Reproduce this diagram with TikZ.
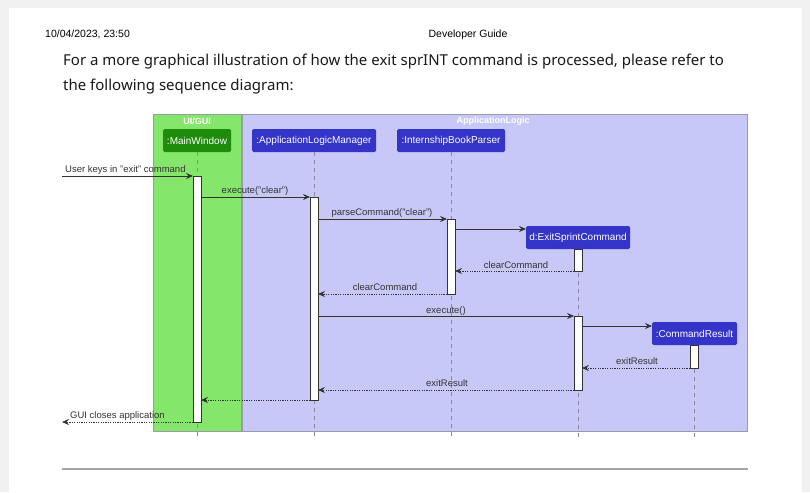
\documentclass[tikz,border=0pt]{standalone}
\usepackage{fontspec}
\setmainfont{Liberation Sans}
\newfontfamily\parafont{Noto Sans}
\usetikzlibrary{arrows.meta}
\definecolor{pagegray}{HTML}{F0F0F0}
\definecolor{uigreen}{HTML}{84E66A}
\definecolor{logicblue}{HTML}{C8C8F8}
\definecolor{partgreen}{HTML}{1F8C0C}
\definecolor{partblue}{HTML}{3434C8}
\definecolor{boxborder}{HTML}{9A9AA8}
\definecolor{lifegray}{HTML}{8A8A9A}
\definecolor{msgcol}{HTML}{333333}
\tikzset{
  x=1pt, y=-1pt,
  grp/.style={draw=boxborder, line width=0.8pt},
  grptitle/.style={text=white, font=\bfseries\fontsize{9}{10}\selectfont, inner sep=0pt},
  part/.style={rounded corners=1.5pt, draw=none, text=white, font=\fontsize{10}{12}\selectfont, inner sep=0pt, anchor=north west},
  life/.style={draw=lifegray, dashed, dash pattern=on 4pt off 4pt, line width=0.7pt},
  act/.style={draw=msgcol, fill=white, line width=0.6pt},
  call/.style={draw=msgcol, line width=0.7pt, -{Stealth[length=7pt,width=6pt,inset=2.5pt]}},
  ret/.style={draw=msgcol, line width=0.7pt, dash pattern=on 1.2pt off 1.2pt, -{Stealth[length=7pt,width=6pt,inset=2.5pt]}},
  lbl/.style={font=\fontsize{9.5}{11}\selectfont, text=msgcol, inner sep=0pt, anchor=base},
  hdr/.style={font=\fontsize{10.5}{12}\selectfont, inner sep=0pt, anchor=base},
  para/.style={font=\parafont\fontsize{15}{18}\selectfont, text=black!90, inner sep=0pt, anchor=base west}
}
\begin{document}
\begin{tikzpicture}
\useasboundingbox (0,0) rectangle (810,492);
\fill[pagegray] (0,0) rectangle (810,492);
\fill[white] (9,8) rectangle (802,492);
% header
\node[hdr, anchor=base west] (date) at (45,38) {10/04/2023, 23:50};
\node[hdr] (title) at (468,38) {Developer Guide};
\node[para] (p1) at (63,66) {For a more graphical illustration of how the exit sprINT command is processed, please refer to};
\node[para] (p2) at (63,91) {the following sequence diagram:};
% groups
\draw[grp, fill=uigreen] (153,114) rectangle (241,431);
\draw[grp, fill=logicblue] (242,114) rectangle (747,431);
\node[grptitle] (g1) at (197,121) {UI/GUI};
\node[grptitle] (g2) at (493,121) {ApplicationLogic};
% participants
\fill[partgreen, rounded corners=1.5pt] (163,129) rectangle (231,152);
\node[text=white, font=\fontsize{10}{12}\selectfont] (mw) at (197,140.5) {:MainWindow};
\fill[partblue, rounded corners=1.5pt] (252,129) rectangle (376,152);
\node[text=white, font=\fontsize{10}{12}\selectfont] (alm) at (314,140.5) {:ApplicationLogicManager};
\fill[partblue, rounded corners=1.5pt] (397,129) rectangle (505,152);
\node[text=white, font=\fontsize{10}{12}\selectfont] (ibp) at (451,140.5) {:InternshipBookParser};
\fill[partblue, rounded corners=1.5pt] (526,226) rectangle (630,249);
\node[text=white, font=\fontsize{10}{12}\selectfont] (esc) at (578,237.5) {d:ExitSprintCommand};
\fill[partblue, rounded corners=1.5pt] (652,322) rectangle (737,345);
\node[text=white, font=\fontsize{10}{12}\selectfont] (cr) at (694.5,333.5) {:CommandResult};
% lifelines
\coordinate (mwend) at (197,437);
\coordinate (almend) at (314,437);
\coordinate (ibpend) at (451,437);
\coordinate (escend) at (578,437);
\coordinate (crend) at (694,437);
\draw[life] (197,152) -- (mwend);
\draw[life] (314,152) -- (almend);
\draw[life] (451,152) -- (ibpend);
\draw[life] (578,249) -- (escend);
\draw[life] (694,345) -- (crend);
% activations
\draw[act] (193,176) rectangle (201,422);
\draw[act] (310,197) rectangle (318,400);
\draw[act] (447,219) rectangle (455,294);
\draw[act] (574,249) rectangle (582,271);
\draw[act] (574,316) rectangle (582,390);
\draw[act] (690,345) rectangle (698,368);
% messages
\coordinate (userin) at (62,176);
\coordinate (userout) at (62,422);
\draw[call] (userin) -- (193,176);
\node[lbl, anchor=base west] (l1) at (65,172) {User keys in "exit" command};
\draw[call] (201,197) -- (310,197);
\node[lbl] (l2) at (255,193) {execute("clear")};
\draw[call] (318,219) -- (447,219);
\node[lbl] (l3) at (382,215) {parseCommand("clear")};
\draw[call] (455,229) -- (526,229);
\draw[ret] (574,271) -- (455,271);
\node[lbl] (l5) at (516,268) {clearCommand};
\draw[ret] (447,294) -- (318,294);
\node[lbl] (l6) at (385,290) {clearCommand};
\draw[call] (318,316) -- (574,316);
\node[lbl] (l7) at (446,313) {execute()};
\draw[call] (582,326) -- (652,326);
\draw[ret] (690,368) -- (582,368);
\node[lbl] (l9) at (637,364) {exitResult};
\draw[ret] (574,390) -- (318,390);
\node[lbl] (l10) at (447,386) {exitResult};
\draw[ret] (310,400) -- (201,400);
\draw[ret] (193,422) -- (userout);
\node[lbl, anchor=base west] (l12) at (70,418) {GUI closes application};
% rule
\draw[draw=black!35, line width=1.2pt] (62,469) -- (748,469);
\end{tikzpicture}
\end{document}
